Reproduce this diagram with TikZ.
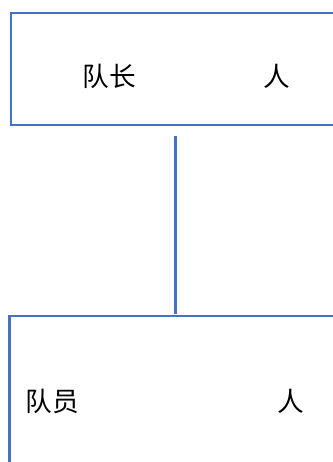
\documentclass[tikz,border=0pt]{standalone}
\usepackage{fontspec}
\newfontfamily\cjk{Noto Sans CJK SC}
\definecolor{boxblue}{HTML}{4472C4}
\begin{document}
\begin{tikzpicture}[x=0.75pt,y=-0.75pt,
  box/.style={draw=boxblue,line width=2pt,fill=none,inner sep=0pt,rectangle},
  lbl/.style={inner sep=0pt,font=\cjk\fontsize{20}{23}\selectfont,text=black},
  conn/.style={draw=boxblue,line width=2pt}]
\useasboundingbox (0,0) rectangle (333,462);
\clip (0,0) rectangle (333,462);
\node[box,minimum width=334*0.75pt,minimum height=112*0.75pt] (top) at (178,69) {};
\node[box,minimum width=336*0.75pt,minimum height=164*0.75pt] (bottom) at (177.5,398) {};
\node[lbl] (t1) at (109.5,76.5) {队长};
\node[lbl] (t2) at (277,76.5) {人};
\node[lbl] (b1) at (52.5,401.5) {队员};
\node[lbl] (b2) at (290.5,401.5) {人};
\coordinate (c1) at (175.5,136);
\coordinate (c2) at (175.5,314);
\draw[conn] (c1) -- (c2);
\end{tikzpicture}
\end{document}
